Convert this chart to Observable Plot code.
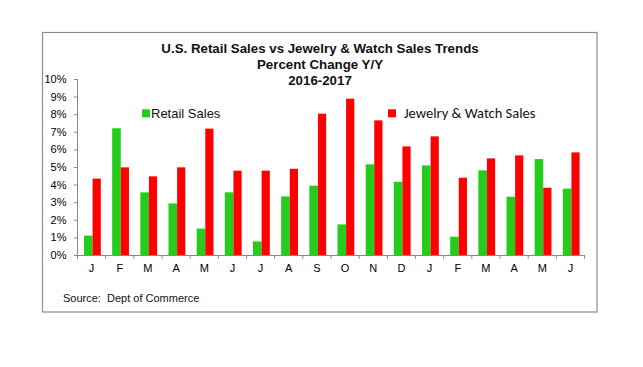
<!DOCTYPE html>
<html>
<head>
<meta charset="utf-8">
<script src="https://cdn.jsdelivr.net/npm/d3@7"></script>
<script src="https://cdn.jsdelivr.net/npm/@observablehq/plot@0.6"></script>
<style>
  html, body { margin: 0; padding: 0; background: #fff; }
  #chart { position: relative; width: 643px; height: 367px; }
  svg { font-family: Arial, "Liberation Sans", sans-serif; }
</style>
</head>
<body>
<div id="chart"></div>
<script>
const months = ["J","F","M","A","M","J","J","A","S","O","N","D","J","F","M","A","M","J"];
const retailSales = [1.1, 7.2, 3.56, 2.93, 1.5, 3.56, 0.77, 3.33, 3.94, 1.74, 5.15, 4.16, 5.09, 1.04, 4.81, 3.31, 5.45, 3.77];
const jewelrySales = [4.34, 4.98, 4.47, 4.98, 7.18, 4.79, 4.79, 4.9, 8.03, 8.88, 7.65, 6.17, 6.74, 4.39, 5.49, 5.66, 3.82, 5.83];
const yTicks = [0,1,2,3,4,5,6,7,8,9,10];
const titleLines = ["U.S. Retail Sales vs Jewelry & Watch Sales Trends", "Percent Change Y/Y", "2016-2017"];
const seriesNames = ["Retail Sales", "Jewelry & Watch Sales"];
const sourceText = "Source:  Dept of Commerce";

const W = 643, H = 367;
const mL = 77, mR = 59, mT = 79, mB = 112;
const step = (W - mL - mR) / months.length;
const green = "#26cc1c", red = "#ff0000", axisColor = "#888";

const idx = months.map((_, i) => i);
const retail = idx.map(i => ({i, v: retailSales[i]}));
const jewel = idx.map(i => ({i, v: jewelrySales[i]}));

const plot = Plot.plot({
  width: W, height: H,
  marginLeft: mL, marginRight: mR, marginTop: mT, marginBottom: mB,
  style: {fontFamily: "Arial, 'Liberation Sans', sans-serif", fontSize: "11px", color: "#000", background: "#fff"},
  x: {type: "band", domain: idx, padding: 0, round: false},
  y: {domain: [0, 10], range: [H - mB, mT]},
  marks: [
    Plot.barY(retail, {x: "i", y: "v", fill: green, insetLeft: 7, insetRight: step - 15.6}),
    Plot.barY(jewel, {x: "i", y: "v", fill: red, insetLeft: 15.6, insetRight: step - 23.8}),
    Plot.frame({anchor: "left", stroke: axisColor}),
    Plot.frame({anchor: "bottom", stroke: axisColor}),
    Plot.ruleX(idx, {x: d => d, y1: 0, y2: -0.22, dx: -step / 2, stroke: axisColor}),
    Plot.ruleX([17], {x: d => d, y1: 0, y2: -0.22, dx: step / 2, stroke: axisColor}),
    Plot.axisY({ticks: yTicks, tickFormat: d => d + "%", tickSize: 3, tickPadding: 8, stroke: axisColor, fill: "#000", label: null, fontSize: 11}),
    Plot.axisX({tickFormat: i => months[i], tickSize: 0, tickPadding: 9, label: null, fill: "#000", fontSize: 11})
  ]
});

document.getElementById("chart").appendChild(plot);

const svg = d3.select(plot);
const g = svg.append("g").attr("text-anchor", "start");
g.append("rect").attr("x", 42.5).attr("y", 32.5).attr("width", 554.5).attr("height", 279.5)
  .attr("fill", "none").attr("stroke", "#8c8c8c").attr("stroke-width", 1.2);
titleLines.forEach((t, i) => {
  g.append("text").attr("x", 320).attr("y", 53 + i * 16).attr("text-anchor", "middle")
    .attr("font-weight", "bold").attr("font-size", 13.3).attr("fill", "#111").text(t);
});
const yS = plot.scale("y");
const ly = yS.apply(8.05);
g.append("rect").attr("x", 142).attr("y", ly - 4).attr("width", 8).attr("height", 8).attr("fill", green);
g.append("text").attr("x", 151).attr("y", ly + 5).attr("font-size", 13).attr("fill", "#111").text(seriesNames[0]);
g.append("rect").attr("x", 388).attr("y", ly - 4).attr("width", 8).attr("height", 8).attr("fill", red);
g.append("text").attr("x", 404).attr("y", ly + 5).attr("font-size", 14.5)
  .attr("font-family", "Carlito, Lato, 'Open Sans', sans-serif").attr("fill", "#111").text(seriesNames[1]);
g.append("text").attr("x", 63).attr("y", 302).attr("font-size", 11).attr("fill", "#111").text(sourceText);
</script>
</body>
</html>
